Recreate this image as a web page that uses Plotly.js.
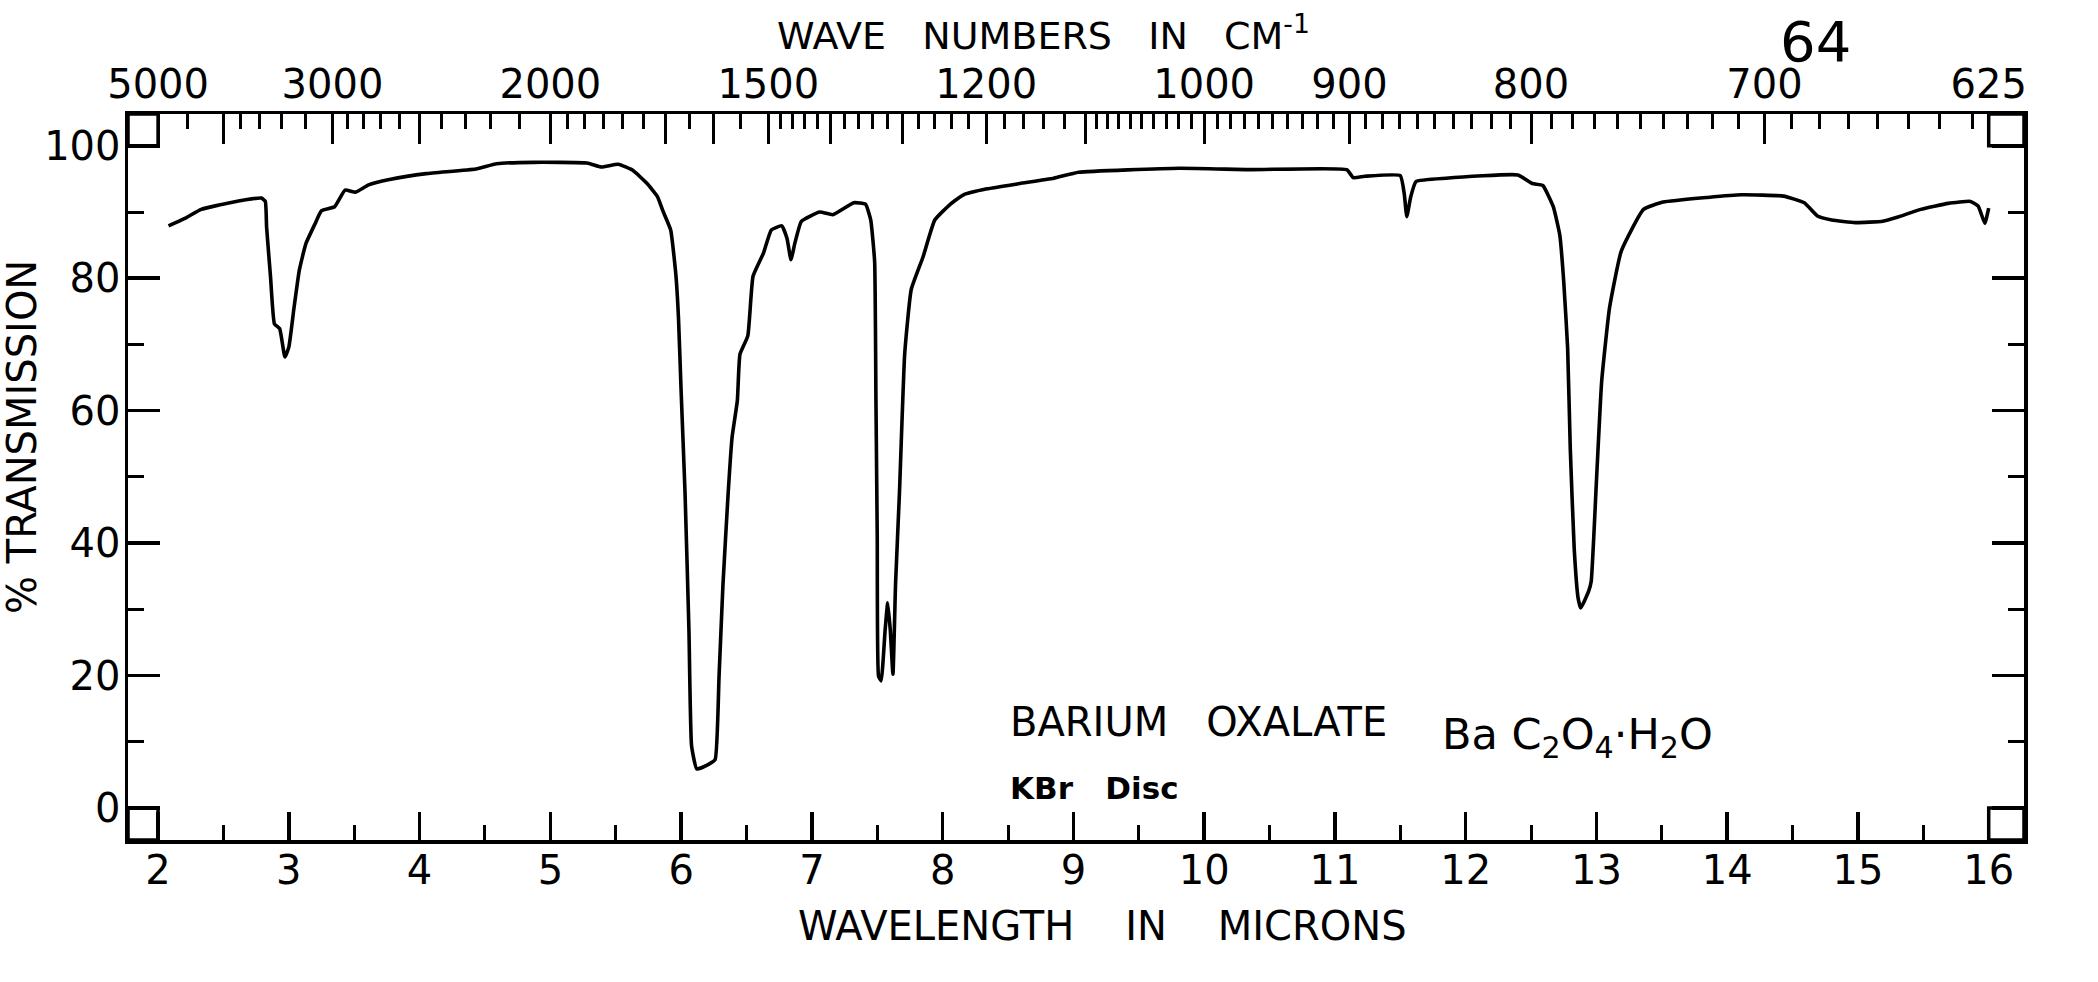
<!DOCTYPE html>
<html>
<head>
<meta charset="utf-8">
<script src="https://cdn.plot.ly/plotly-3.0.1.min.js"></script>
<style>
  html, body { margin: 0; padding: 0; background: #ffffff; }
  #chart { width: 2098px; height: 982px; }
</style>
</head>
<body>
<div id="chart"></div>
<script>
// ---- Data (wavelength in microns, % transmission) ----
const wavelength = [
  2.08, 2.22, 2.33, 2.55, 2.79, 2.82, 2.83, 2.86, 2.89, 2.93, 2.97, 3.00, 3.04, 3.08, 3.13,
  3.20, 3.25, 3.35, 3.43, 3.51, 3.61, 3.77, 4.05, 4.43, 4.59, 4.87, 5.28, 5.39, 5.52, 5.63,
  5.74, 5.82, 5.86, 5.92, 5.96, 5.98, 6.00, 6.03, 6.06, 6.08, 6.12, 6.21, 6.26, 6.29, 6.32,
  6.36, 6.39, 6.43, 6.45, 6.51, 6.55, 6.63, 6.69, 6.77, 6.81, 6.84, 6.87, 6.92, 7.06, 7.16,
  7.32, 7.41, 7.45, 7.48, 7.49, 7.50, 7.51, 7.53, 7.56, 7.58, 7.60, 7.62, 7.64, 7.67, 7.71,
  7.76, 7.85, 7.94, 8.06, 8.16, 8.34, 8.59, 8.85, 9.04, 9.81, 10.36, 11.09, 11.14, 11.23, 11.50,
  11.53, 11.55, 11.58, 11.62, 11.85, 12.40, 12.51, 12.59, 12.67, 12.72, 12.75, 12.78, 12.80, 12.83, 12.86,
  12.88, 12.94, 12.96, 13.00, 13.04, 13.10, 13.19, 13.36, 13.51, 13.85, 14.11, 14.43, 14.59, 14.69, 14.80,
  14.98, 15.19, 15.30, 15.48, 15.69, 15.86, 15.92, 15.97, 16.00
];
const transmission = [
  87.9, 89.2, 90.4, 91.4, 92.1, 91.6, 87.7, 80.2, 73.1, 72.4, 68.1, 69.6, 75.6, 81.2, 85.2,
  88.2, 90.2, 90.8, 93.3, 93.0, 94.1, 94.9, 95.8, 96.5, 97.3, 97.5, 97.4, 96.8, 97.2, 96.3,
  94.3, 92.3, 90.2, 87.3, 80.5, 74.0, 63.0, 47.6, 26.8, 9.4, 5.9, 6.6, 7.3, 19.8, 33.7,
  47.6, 56.0, 61.5, 68.5, 71.3, 80.3, 83.8, 87.3, 87.9, 86.0, 82.8, 85.3, 88.6, 90.0, 89.6,
  91.4, 91.2, 88.8, 82.5, 61.6, 40.8, 19.9, 19.2, 26.8, 31.0, 26.8, 20.2, 33.8, 47.7, 68.6,
  78.3, 83.2, 88.8, 91.2, 92.6, 93.5, 94.3, 95.1, 96.0, 96.6, 96.4, 96.4, 95.2, 95.4, 95.5,
  92.8, 89.3, 92.3, 94.6, 95.1, 95.6, 94.3, 94.0, 90.8, 86.5, 79.5, 69.4, 54.3, 39.2, 31.7,
  30.2, 32.7, 34.2, 49.3, 64.4, 75.5, 84.1, 90.4, 91.5, 92.2, 92.6, 92.4, 91.4, 89.4, 88.8,
  88.4, 88.6, 89.2, 90.4, 91.3, 91.6, 90.9, 88.3, 90.6
];

// ---- Axis tick labels ----
const micronTicks = [2, 3, 4, 5, 6, 7, 8, 9, 10, 11, 12, 13, 14, 15, 16];
const micronMinor = [2.5, 3.5, 4.5, 5.5, 6.5, 7.5, 8.5, 9.5, 10.5, 11.5, 12.5, 13.5, 14.5, 15.5];
const waveLabels = [5000, 3000, 2000, 1500, 1200, 1000, 900, 800, 700, 625];
const waveLong = [4000, 2500, 1700, 1600, 1400, 1300, 1100];
const waveMinor = [
  4500, 3800, 3600, 3400, 3200, 2900, 2800, 2700, 2600, 2400, 2300, 2200, 2100,
  1950, 1900, 1850, 1800, 1750, 1650, 1550,
  1480, 1460, 1440, 1420, 1380, 1360, 1340, 1320, 1280, 1260, 1240, 1220,
  1180, 1160, 1140, 1120,
  1090, 1080, 1070, 1060, 1050, 1040, 1030, 1020, 1010,
  990, 980, 970, 960, 950, 940, 930, 920, 910,
  890, 880, 870, 860, 850, 840, 830, 820, 810,
  790, 780, 770, 760, 750, 740, 730, 720, 710,
  690, 680, 670, 660, 650, 640, 630
];
const pctTicks = [0, 20, 40, 60, 80, 100];
const pctMinor = [10, 30, 50, 70, 90];

const xRange = [1.77, 16.27];
const yRange = [-4.83, 104.8];
const toMicron = w => 1e4 / w;
const NB = '\u00a0';
const FONT = 'DejaVu Sans, Liberation Sans, Arial, sans-serif';

const traces = [
  {
    x: wavelength, y: transmission, type: 'scatter', mode: 'lines',
    line: { color: '#000000', width: 3.6, shape: 'spline', smoothing: 0.4 },
    hoverinfo: 'x+y', showlegend: false
  },
  { x: [], y: [], xaxis: 'x2', yaxis: 'y', type: 'scatter', mode: 'lines', showlegend: false, hoverinfo: 'skip' },
  { x: [], y: [], xaxis: 'x3', yaxis: 'y', type: 'scatter', mode: 'lines', showlegend: false, hoverinfo: 'skip' }
];

const layout = {
  width: 2098, height: 982,
  margin: { l: 128, r: 74, t: 114, b: 142, pad: 0 },
  paper_bgcolor: '#ffffff', plot_bgcolor: '#ffffff',
  font: { family: FONT, color: '#000000', size: 40 },
  showlegend: false,
  xaxis: {
    range: xRange, showgrid: false, zeroline: false,
    showline: true, linecolor: '#000', linewidth: 3.5, mirror: false,
    tickmode: 'array', tickvals: micronTicks, ticktext: micronTicks.map(String),
    ticks: 'inside', ticklen: 28, tickwidth: 3.5, tickcolor: '#000',
    tickfont: { family: FONT, size: 40, color: '#000' },
    ticklabelstandoff: -8,
    minor: { tickmode: 'array', tickvals: micronMinor, ticks: 'inside', ticklen: 15, tickwidth: 3, tickcolor: '#000', showgrid: false }
  },
  xaxis2: {
    overlaying: 'x', side: 'top', anchor: 'y',
    range: xRange, showgrid: false, zeroline: false,
    showline: true, linecolor: '#000', linewidth: 3.5,
    tickmode: 'array', tickvals: waveLabels.map(toMicron), ticktext: waveLabels.map(String),
    ticks: 'inside', ticklen: 30, tickwidth: 3, tickcolor: '#000',
    tickfont: { family: FONT, size: 40, color: '#000' },
    ticklabelstandoff: -3,
    minor: { tickmode: 'array', tickvals: waveMinor.map(toMicron), ticks: 'inside', ticklen: 15, tickwidth: 3, tickcolor: '#000', showgrid: false }
  },
  xaxis3: {
    overlaying: 'x', side: 'top', anchor: 'y',
    range: xRange, showgrid: false, zeroline: false, showline: false,
    tickmode: 'array', tickvals: waveLong.map(toMicron), showticklabels: false,
    ticks: 'inside', ticklen: 30, tickwidth: 3, tickcolor: '#000'
  },
  yaxis: {
    range: yRange, showgrid: false, zeroline: false,
    showline: true, linecolor: '#000', linewidth: 3.5, mirror: 'ticks',
    tickmode: 'array', tickvals: pctTicks, ticktext: pctTicks.map(String),
    ticks: 'inside', ticklen: 32, tickwidth: 3.5, tickcolor: '#000',
    tickfont: { family: FONT, size: 40, color: '#000' },
    ticklabelstandoff: -4,
    minor: { tickmode: 'array', tickvals: pctMinor, ticks: 'inside', ticklen: 16, tickwidth: 3, tickcolor: '#000', showgrid: false }
  },
  shapes: [
    { type: 'rect', xref: 'x', yref: 'y', x0: xRange[0], x1: 2, y0: yRange[0], y1: 0, line: { color: '#000', width: 3.5 } },
    { type: 'rect', xref: 'x', yref: 'y', x0: xRange[0], x1: 2, y0: 100, y1: yRange[1], line: { color: '#000', width: 3.5 } },
    { type: 'rect', xref: 'x', yref: 'y', x0: 16, x1: xRange[1], y0: yRange[0], y1: 0, line: { color: '#000', width: 3.5 } },
    { type: 'rect', xref: 'x', yref: 'y', x0: 16, x1: xRange[1], y0: 100, y1: yRange[1], line: { color: '#000', width: 3.5 } }
  ],
  annotations: [
    { xref: 'paper', yref: 'paper', x: 0.4826, y: 1.1115, xanchor: 'center', yanchor: 'middle', showarrow: false,
      text: 'WAVE' + NB + NB + NB + 'NUMBERS' + NB + NB + NB + 'IN' + NB + NB + NB + 'CM<sup>-1</sup>',
      font: { family: FONT, size: 38, color: '#000' } },
    { xref: 'paper', yref: 'paper', x: 0.8898, y: 1.1005, xanchor: 'center', yanchor: 'middle', showarrow: false,
      text: '64', font: { family: FONT, size: 56, color: '#000' } },
    { xref: 'paper', yref: 'paper', x: -0.0559, y: 0.5551, xanchor: 'center', yanchor: 'middle', showarrow: false,
      textangle: -90, text: '%' + NB + 'TRANSMISSION', font: { family: FONT, size: 40, color: '#000' } },
    { xref: 'paper', yref: 'paper', x: 0.5142, y: -0.1185, xanchor: 'center', yanchor: 'middle', showarrow: false,
      text: 'WAVELENGTH' + NB + NB + NB + NB + 'IN' + NB + NB + NB + NB + 'MICRONS',
      font: { family: FONT, size: 40, color: '#000' } },
    { xref: 'paper', yref: 'paper', x: 0.4640, y: 0.1625, xanchor: 'left', yanchor: 'middle', showarrow: false,
      text: 'BARIUM' + NB + NB + NB + 'OXALATE', font: { family: FONT, size: 40, color: '#000' } },
    { xref: 'paper', yref: 'paper', x: 0.6920, y: 0.1420, xanchor: 'left', yanchor: 'middle', showarrow: false,
      text: 'Ba' + NB + 'C<sub>2</sub>O<sub>4</sub>·H<sub>2</sub>O', font: { family: FONT, size: 43, color: '#000' } },
    { xref: 'paper', yref: 'paper', x: 0.4640, y: 0.0720, xanchor: 'left', yanchor: 'middle', showarrow: false,
      text: '<b>KBr' + NB + NB + NB + 'Disc</b>', font: { family: FONT, size: 31, color: '#000' } }
  ]
};

Plotly.newPlot('chart', traces, layout, { staticPlot: true, displayModeBar: false });
</script>
</body>
</html>
